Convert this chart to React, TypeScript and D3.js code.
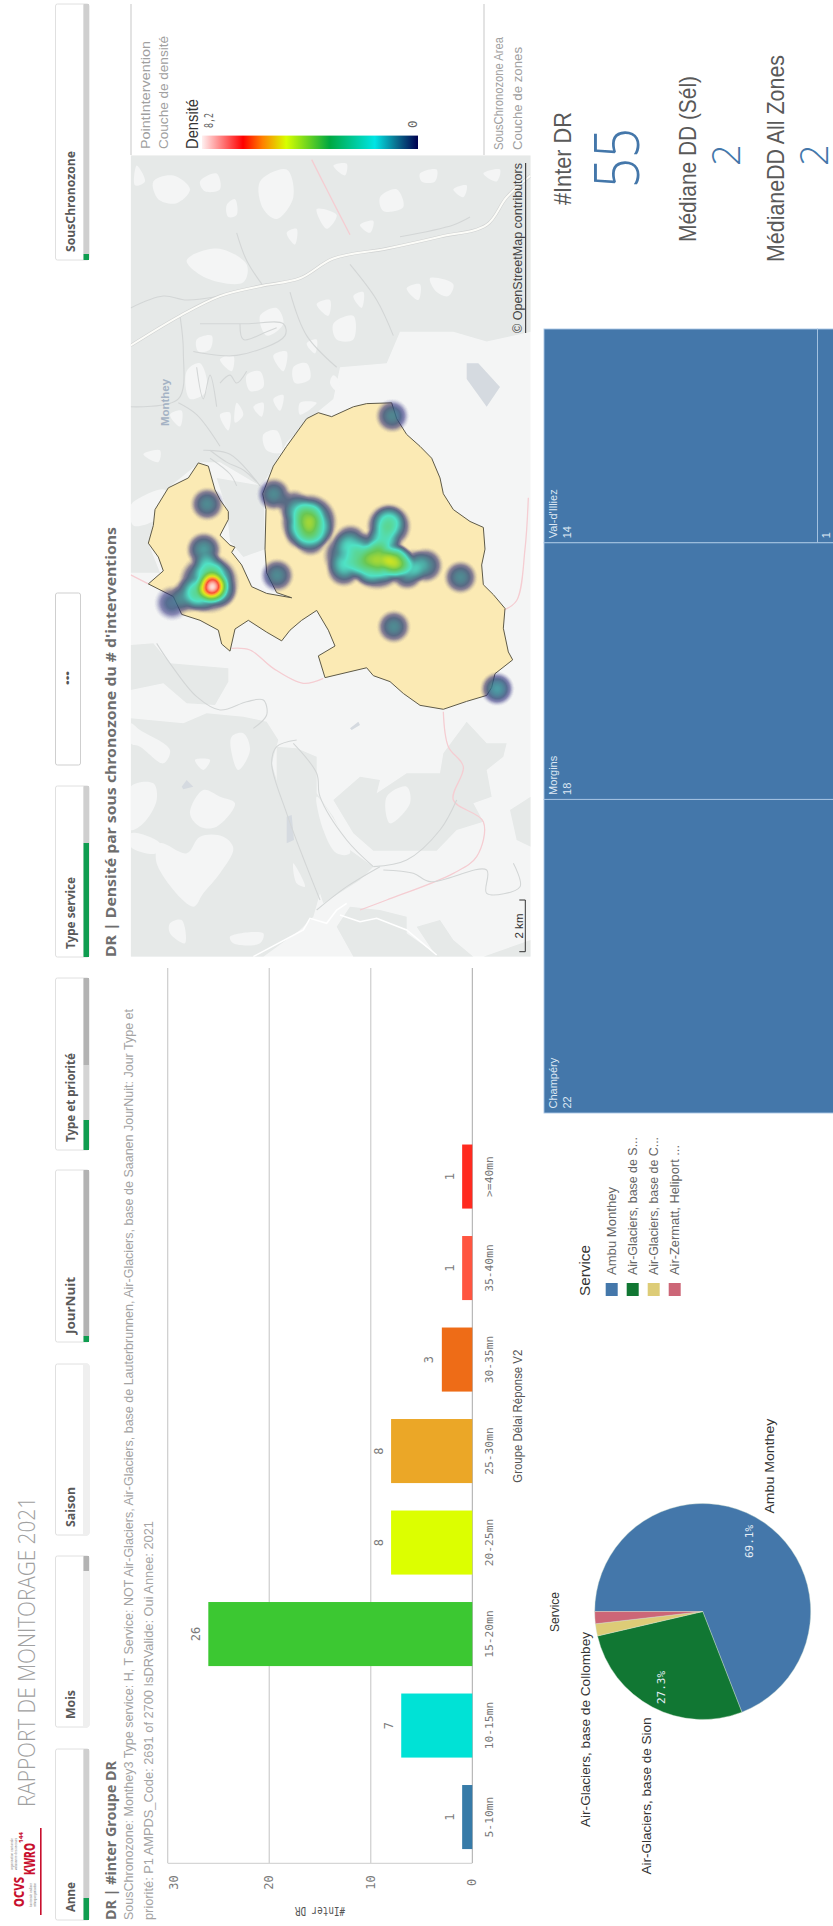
import React, { useMemo } from "react";
import * as d3 from "d3";

// ---------- bar chart data
const delayGroups = ["5-10mn", "10-15mn", "15-20mn", "20-25mn", "25-30mn", "30-35mn", "35-40mn", ">=40mn"];
const delayCounts = [1, 7, 26, 8, 8, 3, 1, 1];
const delayColors = ["#377ba8", "#00e2d6", "#3cc832", "#dcff00", "#eba727", "#ee6c17", "#ff5540", "#ff2a1f"];
const axisTicks = [0, 10, 20, 30];

// ---------- pie data
const serviceNames = ["Ambu Monthey", "Air-Glaciers, base de Sion", "Air-Glaciers, base de Collombey", "Air-Zermatt, Heliport"];
const serviceCounts = [38, 15, 1, 1];
const serviceColors = ["#4477aa", "#117733", "#ddcc77", "#cc6677"];
const legendNames = ["Ambu Monthey", "Air-Glaciers, base de S...", "Air-Glaciers, base de C...", "Air-Zermatt, Heliport ..."];

// ---------- treemap data
const zoneNames = ["Val-d'Illiez", "", "Morgins", "Champéry"];
const zoneCounts = [14, 1, 18, 22];

// ---------- filters
const filterNames = ["Anne", "Mois", "Saison", "JourNuit", "Type et priorité", "Type service", "SousChronozone"];

// ---------- map data (map grid units)
const zonePolygon: [number, number][] = [[740,692],[815,690],[830,730],[860,770],[900,800],[935,830],[960,880],[970,920],[1000,960],[1050,990],[1090,1005],[1095,1060],[1085,1100],[1090,1150],[1120,1175],[1155,1210],[1150,1260],[1165,1320],[1178,1340],[1125,1375],[1115,1410],[1100,1430],[1040,1445],[970,1465],[900,1455],[850,1425],[810,1395],[760,1380],[740,1360],[615,1385],[595,1330],[645,1305],[625,1265],[590,1215],[545,1240],[510,1265],[485,1292],[440,1270],[385,1240],[345,1262],[330,1318],[305,1300],[295,1265],[240,1240],[185,1225],[160,1180],[85,1148],[130,1115],[115,1080],[85,1045],[100,1000],[105,960],[145,905],[205,880],[235,842],[265,850],[285,910],[300,935],[325,965],[325,985],[300,1025],[330,1050],[345,1055],[335,1068],[365,1100],[395,1155],[440,1172],[515,1183],[470,1170],[440,1120],[435,1060],[438,960],[428,920],[460,850],[500,800],[560,730],[595,715],[635,725],[700,700]];
const hotX = [275,290,265,250,205,240,155,300,265,260,470,1020,820,815,1130,460,520,565,555,590,570,540,565,805,790,805,690,670,720,770,830,800,860,915,880,745,770,680];
const hotY = [1155,1130,1110,1060,1175,1175,1195,1165,1145,945,1125,1130,1255,722,1412,920,950,975,1000,1010,1035,1020,990,990,1030,1000,1040,1110,1085,1075,1090,1100,1120,1100,1100,1110,1085,1075];
const hotW = [5.6,0.8,1.0,1.0,0.9,0.9,0.6,0.7,1.7,0.85,0.85,0.85,0.85,0.8,1,0.85,0.7,1.5,0.7,0.8,0.8,0.5,2.0,0.9,0.7,1.4,0.9,0.9,0.9,1.7,3,1,0.9,0.9,0.6,0.8,2.1,1.1];
const hotR = [18,18,18,19,19,19,19,18,32,18,18,18,18,18,18,18,18,18,18,18,18,18,30,18,18,24,19,19,18,18,18,18,18,19,18,18,32,26];

const upperForest: [number, number][][] = [
  [[32,65],[1232,65],[1232,510],[1100,535],[1000,510],[840,510],[800,590],[660,600],[640,680],[590,715],[500,790],[440,880],[420,900],[300,840],[240,840],[145,905],[100,1000],[85,1045],[120,1120],[32,1120]],
  [[290,880],[430,900],[435,1060],[370,1080],[330,1040],[320,960]],
];
const upperClearings: [number, number][][] = [
  [[100,130],[160,115],[210,150],[170,185],[115,175]],
  [[420,130],[500,100],[520,170],[470,225],[430,200]],
  [[50,90],[75,130],[45,140]],
  [[200,330],[290,300],[380,340],[370,385],[260,375]],
  [[420,470],[470,450],[490,490],[440,520]],
  [[1000,150],[1040,140],[1030,170]],
  [[930,375],[1000,390],[985,420],[950,410]],
  [[640,490],[700,470],[700,530],[650,530]],
  [[350,690],[370,720],[345,740]],
  [[430,770],[470,760],[485,815],[440,810]],
  [[60,930],[135,910],[150,960],[100,990],[40,1000],[32,950]],
  [[540,690],[590,690],[540,720]],
  [[640,620],[660,640],[650,660],[630,640]],
  [[520,600],[560,590],[570,630],[525,640]],
  [[200,610],[240,590],[260,660],[210,680]],
  [[780,170],[830,150],[850,195],[790,205]],
  [[590,200],[650,215],[620,250]],
  [[240,130],[290,110],[300,150],[255,155]],
  [[320,190],[345,175],[350,215],[325,220]],
  [[640,90],[680,85],[675,115]],
  [[900,110],[950,100],[945,130],[905,130]],
  [[720,240],[760,230],[750,260]],
  [[1090,110],[1140,100],[1130,130]],
  [[500,260],[530,250],[525,290]],
  [[230,530],[275,520],[270,555],[235,560]],
  [[300,580],[340,570],[335,610]],
  [[380,620],[420,610],[430,650],[390,660]],
  [[460,570],[500,560],[490,610]],
  [[560,540],[590,530],[585,565]],
  [[590,440],[630,430],[625,470]],
  [[700,420],[730,410],[725,450]],
  [[860,400],[900,390],[895,430]],
  [[150,720],[185,710],[180,750]],
  [[70,820],[120,810],[115,840]],
  [[400,700],[430,690],[425,725]],
  [[300,720],[330,715],[325,760]],
  [[460,680],[490,670],[480,710]],
];
const lowerForest: [number, number][][] = [
  [[32,15],[100,10],[150,70],[325,85],[325,125],[285,195],[200,190],[130,130],[32,150]],
  [[32,235],[190,250],[260,220],[370,230],[440,245],[475,300],[455,370],[500,520],[560,680],[600,760],[580,830],[540,870],[430,950],[32,950]],
  [[470,320],[530,325],[590,350],[590,460],[640,530],[690,630],[760,680],[720,720],[610,790],[600,760],[520,650],[470,470]],
  [[640,480],[720,410],[780,420],[770,460],[860,400],[960,400],[970,340],[1040,245],[1100,310],[1160,310],[1150,350],[1100,390],[1115,470],[1060,490],[1090,545],[1010,570],[950,632],[760,632],[700,580]],
  [[1170,510],[1232,470],[1232,620],[1190,600]],
  [[690,800],[780,810],[860,830],[860,880],[960,950],[700,950],[650,860]],
  [[890,860],[960,840],[1000,900],[1060,950],[950,950]],
  [[1090,950],[1232,900],[1232,950]],
];
const lowerClearings: [number, number][][] = [
  [[210,520],[250,450],[300,470],[345,490],[290,560],[240,560]],
  [[240,590],[310,590],[340,625],[300,700],[250,760],[220,800],[110,670],[120,610],[200,640]],
  [[335,290],[370,280],[390,330],[355,390],[335,340]],
  [[225,360],[270,360],[250,390]],
  [[32,250],[60,270],[150,330],[130,370],[60,320],[32,310]],
  [[32,440],[100,430],[110,480],[70,550],[32,570]],
  [[32,580],[120,610],[110,640],[32,620]],
  [[150,850],[185,840],[195,910],[150,880]],
  [[330,890],[430,880],[420,910],[340,910]],
  [[590,470],[630,520],[690,640],[650,640],[610,570]],
  [[520,670],[555,740],[530,730]],
  [[800,470],[860,440],[870,490],[810,550]],
];
const upperHighway: [number, number][] = [[32,545],[180,470],[300,420],[420,395],[540,375],[640,325],[800,300],[960,270],[1100,240],[1160,170],[1232,115]];
const upperRoads: [number, number][][] = [
  [[32,450],[130,420],[200,430],[300,420]],
  [[180,470],[190,560],[175,680],[32,700]],
  [[350,260],[380,330],[430,395]],
  [[510,410],[560,520],[650,600]],
  [[690,340],[770,430],[820,520]],
  [[300,800],[230,720],[175,690]],
  [[420,900],[330,820],[250,810]],
  [[240,490],[380,490],[490,490],[495,520],[350,570],[220,560]],
  [[840,270],[1000,240],[1050,220]],
  [[360,490],[370,530],[440,510],[470,500]],
  [[230,600],[250,680],[270,620],[290,700]],
  [[300,640],[330,620],[350,640],[380,610]],
  [[270,810],[320,840],[370,860],[410,890]],
  [[270,830],[330,870],[350,900]],
];
const lowerRoadsWhite: [number, number][][] = [
  [[400,950],[550,870],[570,835],[620,850],[650,810],[680,790]],
  [[660,825],[720,845],[770,835],[860,870],[950,945]],
];
const lowerRoadsGrey: [number, number][][] = [
  [[110,10],[150,70],[230,170],[300,210],[380,185],[430,180],[440,225],[400,265]],
  [[530,300],[470,320],[455,370],[500,520],[560,680],[600,780]],
  [[520,310],[590,400],[600,470],[680,600],[760,680]],
  [[760,680],[860,660],[960,570],[1010,480]],
  [[790,690],[880,700],[930,725],[1100,690],[1100,760],[1200,740],[1180,670]],
  [[590,810],[680,740],[780,680]],
];
const upperBorders: [number, number][][] = [
  [[575,75],[620,150],[690,265]],
  [[32,1125],[85,1148]],
  [[1225,930],[1215,1060],[1190,1190],[1150,1215]],
];
const lowerBorders: [number, number][][] = [
  [[335,25],[390,30],[460,85],[550,130],[610,115]],
  [[970,215],[985,320],[1030,380],[1000,480],[1090,545],[1070,650],[1000,700],[800,780],[720,810]],
];
const upperLakes: [number, number][][] = [[[1040,590],[1075,590],[1140,650],[1100,700],[1040,630]]];
const lowerLakes: [number, number][][] = [
  [[185,440],[200,420],[220,440],[190,448]],
  [[500,530],[515,525],[522,600],[500,610]],
  [[690,265],[715,245],[720,255],[695,270]],
];

const densityMax = 8.2;
const rampStops = [0, 0.03, 0.06, 0.11, 0.2, 0.41, 0.61, 0.72, 0.81, 1];
const rampColors = ["#20207a", "#2a2a7a", "#2f4a78", "#2f7f8f", "#30e0c8", "#50c040", "#d8e800", "#ff9020", "#f83020", "#ffe8e8"];
const rampAlpha = [0, 0.55, 0.8, 0.85, 0.85, 0.85, 0.85, 0.85, 0.85, 0.9];
const legendStops = [0, 0.1, 0.2, 0.41, 0.61, 0.72, 0.81, 1];
const legendColors = ["#000050", "#0a6f8f", "#00e5e5", "#00a840", "#d8ff00", "#ff8000", "#ff0000", "#fff0f0"];

const MONO = "'DejaVu Sans Mono', monospace";
const SANS = "'Liberation Sans', Arial, sans-serif";
const NOTO = "'Noto Sans', 'Open Sans', sans-serif";

type TP = { x: number; y: number; s: string; size: number; len?: number; fill?: string; family?: string; weight?: any; anchor?: string; deco?: string };
// Rotated text: x = visual centre line, y = screen position of the start
function V({ x, y, s, size, len, fill = "#666", family = SANS, weight = 400, anchor = "start", deco }: TP) {
  return (
    <text
      transform={`translate(${x},${y}) rotate(-90)`}
      dominantBaseline="central"
      textAnchor={anchor}
      fontSize={size}
      fontFamily={family}
      fontWeight={weight}
      fill={fill}
      textDecoration={deco}
      {...(len ? { textLength: len, lengthAdjust: "spacingAndGlyphs" } : {})}
    >
      {s}
    </text>
  );
}

const mx = d3.scaleLinear().domain([0, 1260]).range([120, 540]);
const my = d3.scaleLinear().domain([0, 1568]).range([130, 750]);
const ly = d3.scaleLinear().domain([0, 990]).range([640, 970]);
const upperLine = d3.line<[number, number]>().x((d) => mx(d[0])).y((d) => my(d[1]));
const lowerLine = d3.line<[number, number]>().x((d) => mx(d[0])).y((d) => ly(d[1]));
const upperBlob = d3.line<[number, number]>().x((d) => mx(d[0])).y((d) => my(d[1])).curve(d3.curveCatmullRomClosed.alpha(0.5));
const lowerBlob = d3.line<[number, number]>().x((d) => mx(d[0])).y((d) => ly(d[1])).curve(d3.curveCatmullRomClosed.alpha(0.5));
const upperCurve = d3.line<[number, number]>().x((d) => mx(d[0])).y((d) => my(d[1])).curve(d3.curveCatmullRom);
const lowerCurve = d3.line<[number, number]>().x((d) => mx(d[0])).y((d) => ly(d[1])).curve(d3.curveCatmullRom);

const MAP = { x0: 130.7, x1: 530.7, y0: 155, y1: 956.7 };
const FOREST = "#e6e9e8";
const LAND = "#f4f5f5";

function useHeatmap() {
  return useMemo(() => {
    const X0 = 130, Y0 = 330, W = 400, H = 400;
    const canvas = document.createElement("canvas");
    canvas.width = W;
    canvas.height = H;
    const ctx = canvas.getContext("2d");
    if (!ctx) return { href: "", X0, Y0, W, H };
    const img = ctx.createImageData(W, H);
    const colorOf = d3.scaleLinear<string>().domain(rampStops).range(rampColors).clamp(true);
    const alphaOf = d3.scaleLinear().domain(rampStops).range(rampAlpha).clamp(true);
    const lut: [number, number, number, number][] = d3.range(1001).map((i) => {
      const t = i / 1000;
      const c = d3.rgb(colorOf(t));
      return [c.r, c.g, c.b, alphaOf(t) * 255];
    });
    const pts = hotX.map((x, i) => [mx(x) - X0, my(hotY[i]) - Y0, hotW[i], hotR[i] * hotR[i]]);
    for (let y = 0; y < H; y++) {
      for (let x = 0; x < W; x++) {
        let v = 0;
        for (const p of pts) {
          const dd = ((x - p[0]) ** 2 + (y - p[1]) ** 2) / p[3];
          if (dd < 1) v += p[2] * (1 - dd) * (1 - dd);
        }
        const t = Math.min(1, v / densityMax);
        const c = lut[Math.round(t * 1000)];
        const k = (y * W + x) * 4;
        img.data[k] = c[0];
        img.data[k + 1] = c[1];
        img.data[k + 2] = c[2];
        img.data[k + 3] = c[3];
      }
    }
    ctx.putImageData(img, 0, 0);
    return { href: canvas.toDataURL("image/png"), X0, Y0, W, H };
  }, []);
}

function FilterBox({ y0, y1, name, labelLen, stops }: { y0: number; y1: number; name: string; labelLen: number; stops: [number, number, string][] }) {
  return (
    <g>
      <rect x={55.5} y={y0} width={33.5} height={y1 - y0} rx={2} fill="#fff" stroke="#e0e0e0" />
      <rect x={83} y={y0} width={6} height={y1 - y0} fill="#efefef" />
      {stops.map((s, i) => (
        <rect key={i} x={83.5} y={s[0]} width={5.5} height={s[1] - s[0]} fill={s[2]} />
      ))}
      <V x={70} y={y1 - 8} s={name} size={12.5} len={labelLen} family={NOTO} weight={700} fill="#595959" />
    </g>
  );
}

export default function App() {
  const heat = useHeatmap();

  // bar chart scales (horizontal on screen = value, vertical = group)
  const xV = d3.scaleLinear().domain([0, 30]).range([472.3, 167.7]);
  const yB = d3.scaleBand<string>().domain(delayGroups).range([1862.8, 1130.8]).paddingInner(0.3).paddingOuter(0.15);

  // pie
  const pieGen = d3.pie<number>().sort(null).startAngle(-Math.PI / 2).endAngle((3 * Math.PI) / 2);
  const arcs = pieGen(serviceCounts);
  const arcGen = d3.arc<any>().innerRadius(0).outerRadius(108);
  const pieC = { x: 702.7, y: 1611.5 };

  // treemap
  const root = d3
    .hierarchy<any>({
      children: [
        { children: [{ name: zoneNames[0], value: zoneCounts[0] }, { name: zoneNames[1], value: zoneCounts[1] }] },
        { name: zoneNames[2], value: zoneCounts[2] },
        { name: zoneNames[3], value: zoneCounts[3] },
      ],
    })
    .sum((d) => d.value || 0);
  d3
    .treemap<any>()
    .tile((node, x0, y0, x1, y1) => (node.depth % 2 ? d3.treemapDice : d3.treemapSlice)(node, x0, y0, x1, y1))
    .size([293, 784])(root);
  const leaves = root.leaves() as any[];
  const TX = 544, TY = 329;

  return (
    <svg
      width={833}
      height={1926}
      viewBox="0 0 833 1926"
      style={{ position: "absolute", left: 0, top: 0, background: "#fff", display: "block" }}
    >
      <defs>
        <clipPath id="mapClip">
          <rect x={MAP.x0} y={MAP.y0} width={MAP.x1 - MAP.x0} height={MAP.y1 - MAP.y0} />
        </clipPath>
        <linearGradient id="densGrad" x1="1" x2="0" y1="0" y2="0">
          {legendStops.map((t, i) => (
            <stop key={i} offset={`${t * 100}%`} stopColor={legendColors[i]} />
          ))}
        </linearGradient>
        <filter id="soft" x="-5%" y="-5%" width="110%" height="110%">
          <feGaussianBlur stdDeviation="0.7" />
        </filter>
      </defs>

      {/* header */}
      <rect x={40} y={1828} width={1.6} height={87} fill="#c8102e" />
      <V x={18} y={1907} s="OCVS" size={14} len={30} family={NOTO} weight={800} fill="#c8102e" />
      <V x={29} y={1875} s="KWRO" size={15} len={32} family={NOTO} weight={800} fill="#c8102e" />
      <V x={21} y={1843} s="144" size={6} len={11} family={NOTO} weight={800} fill="#c8102e" />
      <V x={12} y={1870} s="organisation cantonale" size={3.2} len={32} fill="#777" />
      <V x={16} y={1870} s="valaisanne des secours" size={3.2} len={32} fill="#777" />
      <V x={31} y={1907} s="kantonale walliser" size={3.2} len={24} fill="#777" />
      <V x={35} y={1907} s="rettungsorganisation" size={3.2} len={24} fill="#777" />
      <V x={25} y={1807} s="RAPPORT DE MONITORAGE 2021" size={24} len={310} family="'Open Sans', sans-serif" weight={300} fill="#a0a0a0" />

      {/* filter boxes */}
      <FilterBox y0={1749} y1={1920} name={filterNames[0]} labelLen={30} stops={[[1749, 1898, "#cfcfcf"], [1898, 1920, "#0f9d50"]]} />
      <FilterBox y0={1556} y1={1727} name={filterNames[1]} labelLen={29} stops={[[1556, 1571, "#b3b3b3"]]} />
      <FilterBox y0={1364} y1={1535} name={filterNames[2]} labelLen={40} stops={[]} />
      <FilterBox y0={1170} y1={1342} name={filterNames[3]} labelLen={57} stops={[[1170, 1336, "#b3b3b3"], [1336, 1342, "#0f9d50"]]} />
      <FilterBox y0={978} y1={1150} name={filterNames[4]} labelLen={89} stops={[[978, 1065, "#b3b3b3"], [1065, 1120, "#d4d4d4"], [1120, 1150, "#0f9d50"]]} />
      <FilterBox y0={786} y1={957} name={filterNames[5]} labelLen={72} stops={[[786, 843, "#cfcfcf"], [843, 957, "#0f9d50"]]} />
      <FilterBox y0={4} y1={260} name={filterNames[6]} labelLen={101} stops={[[4, 254, "#cfcfcf"], [254, 260, "#0f9d50"]]} />
      <rect x={55.5} y={593} width={25} height={172} rx={2} fill="#fff" stroke="#cfcfcf" />
      <V x={68} y={685} s="•••" size={9} len={14} fill="#555" weight={700} />

      {/* bar chart titles */}
      <V x={110} y={1920} s="DR | #inter Groupe DR" size={15} len={159} family={NOTO} weight={700} fill="#6e6e6e" />
      <V x={128} y={1920} size={13.5} len={911} fill="#a3a3a3"
        s="SousChronozone: Monthey3 Type service: H, T Service: NOT Air-Glaciers, Air-Glaciers, base de Lauterbrunnen, Air-Glaciers, base de Saanen JourNuit: Jour Type et" />
      <V x={148} y={1920} size={13.5} len={399} fill="#a3a3a3"
        s="priorité: P1 AMPDS_Code: 2691 of 2700 IsDRValide: Oui Annee: 2021" />

      {/* bar chart */}
      {axisTicks.filter((t) => t > 0).map((t) => (
        <line key={t} x1={xV(t)} x2={xV(t)} y1={968} y2={1863} stroke="#cdcdcd" strokeWidth={1.2} />
      ))}
      <line x1={xV(30)} x2={xV(0)} y1={1863.3} y2={1863.3} stroke="#d6d6d6" strokeWidth={1.2} />
      <line x1={xV(0)} x2={xV(0)} y1={968} y2={1863} stroke="#a8a8a8" strokeWidth={1} />
      {delayGroups.map((g, i) => (
        <rect key={g} x={xV(delayCounts[i])} y={yB(g)} width={xV(0) - xV(delayCounts[i])} height={yB.bandwidth()} fill={delayColors[i]} />
      ))}
      {delayGroups.map((g, i) => (
        <g key={g}>
          <V x={xV(delayCounts[i]) - 12.5} y={yB(g)! + yB.bandwidth() / 2} s={String(delayCounts[i])} size={12} family={MONO} fill="#7a7a7a" anchor="middle" />
          <V x={489} y={yB(g)! + yB.bandwidth() / 2} s={g} size={11.3} family={MONO} fill="#777" anchor="middle" />
        </g>
      ))}
      {axisTicks.map((t) => (
        <V key={t} x={t === 30 ? xV(t) + 6 : xV(t)} y={1882.5} s={String(t)} size={12} family={MONO} fill="#7a7a7a" anchor="middle" />
      ))}
      <text x={0} y={0} transform="translate(320,1911) rotate(180)" textAnchor="middle" dominantBaseline="central" fontFamily={MONO} fontSize={11.5} fill="#555" textLength={50} lengthAdjust="spacingAndGlyphs">
        #Inter DR
      </text>
      <V x={517.7} y={1482.7} s="Groupe Délai Réponse V2" size={12} len={133} fill="#555" />

      {/* map */}
      <V x={110} y={957} s="DR | Densité par sous chronozone du # d'interventions" size={15} len={430} family={NOTO} weight={700} fill="#6e6e6e" />
      <g clipPath="url(#mapClip)">
        <rect x={MAP.x0} y={MAP.y0} width={MAP.x1 - MAP.x0} height={MAP.y1 - MAP.y0} fill={LAND} />
        <g filter="url(#soft)">
          {upperForest.map((p, i) => <path key={i} d={upperLine(p) + "Z"} fill={FOREST} />)}
          {lowerForest.map((p, i) => <path key={i} d={lowerLine(p) + "Z"} fill={FOREST} />)}
          {upperClearings.map((p, i) => <path key={i} d={upperBlob(p)!} fill={LAND} />)}
          {lowerClearings.map((p, i) => <path key={i} d={lowerBlob(p)!} fill={LAND} />)}
          {upperLakes.map((p, i) => <path key={i} d={upperLine(p) + "Z"} fill="#d5dae0" />)}
          {lowerLakes.map((p, i) => <path key={i} d={lowerLine(p) + "Z"} fill="#d5dae0" />)}
          {upperBorders.map((p, i) => <path key={i} d={upperCurve(p)!} fill="none" stroke="#f5cdd2" strokeWidth={1.3} />)}
          {lowerBorders.map((p, i) => <path key={i} d={lowerCurve(p)!} fill="none" stroke="#f5cdd2" strokeWidth={1.3} />)}
          {upperRoads.map((p, i) => <path key={i} d={upperCurve(p)!} fill="none" stroke="#d3d6d6" strokeWidth={1.1} />)}
          {lowerRoadsGrey.map((p, i) => <path key={i} d={lowerCurve(p)!} fill="none" stroke="#d3d6d6" strokeWidth={1.1} />)}
          <path d={upperCurve(upperHighway)!} fill="none" stroke="#d0d2d2" strokeWidth={3.2} />
          <path d={upperCurve(upperHighway)!} fill="none" stroke="#fcfcf8" strokeWidth={2} />
          {lowerRoadsWhite.map((p, i) => <path key={i} d={lowerLine(p)!} fill="none" stroke="#fff" strokeWidth={1.6} />)}
        </g>
        <text transform={`translate(165,426) rotate(-90)`} dominantBaseline="central" fontFamily={SANS} fontWeight={700} fontSize={11} fill="#a4b2c4" textLength={47} lengthAdjust="spacingAndGlyphs">Monthey</text>
        <path d={upperLine(zonePolygon) + "Z"} fill="#fbe7a8" fillOpacity={0.85} stroke="#5e5a48" strokeWidth={1} strokeLinejoin="round" />
        {heat.href && <image href={heat.href} x={heat.X0} y={heat.Y0} width={heat.W} height={heat.H} />}
      </g>
      {/* scale bar */}
      <path d="M519.3,900 H525.3 V951.7 H519.3" fill="none" stroke="#333" strokeWidth={1} />
      <V x={519} y={938.5} s="2 km" size={11} len={25} fill="#333" />
      <V x={518} y={333} s="© OpenStreetMap contributors" size={12} len={170} fill="#444" deco="underline" />

      {/* map legend */}
      <line x1={131} x2={131} y1={4} y2={155} stroke="#d0d0d0" strokeWidth={1.2} />
      <line x1={484} x2={484} y1={4} y2={155} stroke="#d0d0d0" strokeWidth={1.2} />
      <V x={145} y={149} s="PointIntervention" size={13.5} len={108} fill="#a0a0a0" />
      <V x={163} y={149} s="Couche de densité" size={13.5} len={113} fill="#a0a0a0" />
      <V x={192} y={149} s="Densité" size={16} len={50} fill="#333" />
      <V x={208} y={128} s="8,2" size={12.5} len={15} family={MONO} fill="#666" />
      <V x={412} y={128} s="0" size={12.5} family={MONO} fill="#666" />
      <rect x={202} y={135.6} width={216} height={13.4} fill="url(#densGrad)" />
      <V x={498} y={150} s="SousChronozone Area" size={13.5} len={113} fill="#a0a0a0" />
      <V x={517} y={150} s="Couche de zones" size={13.5} len={103} fill="#a0a0a0" />

      {/* KPI */}
      <V x={562} y={205} s="#Inter DR" size={24} len={93} fill="#595959" />
      <V x={615} y={188} s="55" size={62} len={60} fill="#4477aa" family={"'Open Sans', sans-serif"} weight={300} />
      <V x={687} y={242} s="Médiane DD (Sél)" size={24} len={166} fill="#595959" />
      <V x={725} y={166} s="2" size={38} fill="#4477aa" family={"'Open Sans', sans-serif"} weight={300} />
      <V x={775} y={262} s="MédianeDD All Zones" size={24} len={207} fill="#595959" />
      <V x={813} y={166} s="2" size={38} fill="#4477aa" family={"'Open Sans', sans-serif"} weight={300} />

      {/* treemap */}
      {leaves.map((d, i) => (
        <g key={i}>
          <rect x={TX + d.x0} y={TY + d.y0} width={d.x1 - d.x0} height={d.y1 - d.y0} fill="#4477aa" stroke="#a9c6e4" strokeWidth={0.9} />
          {d.data.name ? (
            <g>
              <V x={TX + d.x0 + 9} y={TY + d.y1 - 4.5} s={d.data.name} size={11} fill="#dde8f4" />
              <V x={TX + d.x0 + 23} y={TY + d.y1 - 4.5} s={String(d.data.value)} size={11} fill="#dde8f4" />
            </g>
          ) : (
            <V x={TX + d.x0 + 8.5} y={TY + d.y1 - 4.5} s={String(d.data.value)} size={11} fill="#dde8f4" />
          )}
        </g>
      ))}

      {/* service legend */}
      <V x={584} y={1296} s="Service" size={15} len={51} fill="#333" />
      {legendNames.map((n, i) => (
        <g key={n}>
          <rect x={605.7 + i * 21} y={1283} width={12} height={13} fill={serviceColors[i]} />
          <V x={611.7 + i * 21} y={1275} s={n} size={12} len={i === 0 ? 88 : i === 3 ? 130 : 138} fill="#666" />
        </g>
      ))}

      {/* pie */}
      <g transform={`translate(${pieC.x},${pieC.y})`}>
        {arcs.map((a, i) => (
          <path key={i} d={arcGen(a)!} fill={serviceColors[i]} stroke="#cfe0cf" strokeWidth={0.4} />
        ))}
      </g>
      <V x={749} y={1541.5} s="69.1%" size={11} family={MONO} fill="#e6eef6" anchor="middle" />
      <V x={661.7} y={1687.5} s="27.3%" size={11} family={MONO} fill="#e6eef6" anchor="middle" />
      <V x={769} y={1513.6} s={serviceNames[0]} size={13} len={95} fill="#333" />
      <V x={646.7} y={1874.5} s={serviceNames[1]} size={13} len={157} fill="#333" />
      <V x={585} y={1827} s={serviceNames[2]} size={13} len={195} fill="#333" />
      <V x={555} y={1632} s="Service" size={12} len={40} fill="#333" />
    </svg>
  );
}
